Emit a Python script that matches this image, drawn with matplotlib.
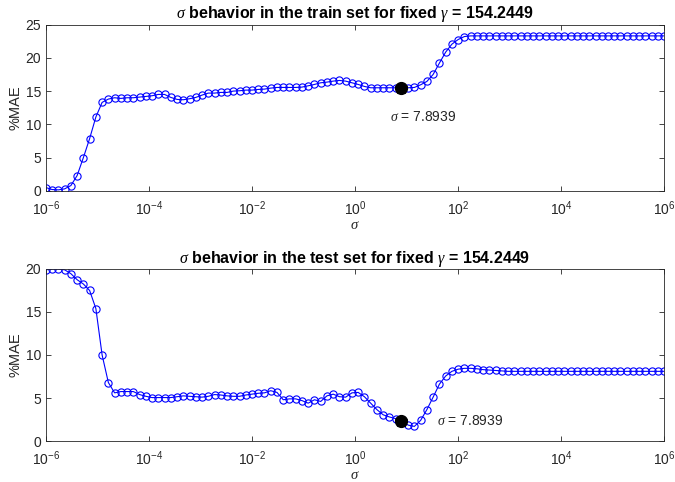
import numpy as np
import matplotlib
matplotlib.use("Agg")
import matplotlib.pyplot as plt

plt.rcParams['font.family'] = ['Liberation Sans', 'DejaVu Sans']
plt.rcParams['mathtext.fontset'] = 'custom'
plt.rcParams['mathtext.rm'] = 'Liberation Sans'
plt.rcParams['mathtext.it'] = 'Liberation Serif:italic'
plt.rcParams['mathtext.bf'] = 'Liberation Sans:bold'

# sigma sweep (100 log-spaced values) and the %MAE obtained for each
sigma = np.logspace(-6, 6, 100)

mae_train = [0.5, 0.2, 0.15, 0.3, 0.8, 2.3, 5.0, 7.85, 11.1, 13.3,
             13.8, 14.0, 13.9, 14.0, 14.0, 14.1, 14.2, 14.3, 14.5, 14.5,
             14.05, 13.75, 13.7, 13.85, 14.05, 14.4, 14.7, 14.7, 14.8, 14.8,
             15.0, 15.05, 15.15, 15.15, 15.25, 15.3, 15.45, 15.55, 15.55, 15.55,
             15.55, 15.6, 15.8, 16.0, 16.25, 16.35, 16.5, 16.6, 16.5, 16.25,
             16.0, 15.7, 15.5, 15.5, 15.5, 15.5, 15.5, 15.5, 15.5, 15.55,
             15.95, 16.45, 17.5, 19.2, 20.85, 22.05, 22.75, 23.2, 23.3, 23.3,
             23.3, 23.3, 23.3, 23.3, 23.3, 23.3, 23.3, 23.3, 23.3, 23.3,
             23.3, 23.3, 23.3, 23.3, 23.3, 23.3, 23.3, 23.3, 23.3, 23.3,
             23.3, 23.3, 23.3, 23.3, 23.3, 23.3, 23.3, 23.3, 23.3, 23.3]

mae_test = [19.9, 20.0, 20.0, 19.9, 19.45, 18.75, 18.25, 17.5, 15.4, 10.0,
            6.8, 5.6, 5.75, 5.75, 5.75, 5.4, 5.2, 5.05, 5.05, 5.05,
            5.05, 5.15, 5.25, 5.2, 5.15, 5.1, 5.2, 5.4, 5.35, 5.25,
            5.2, 5.2, 5.35, 5.45, 5.55, 5.6, 5.85, 5.65, 4.8, 4.9,
            4.9, 4.7, 4.4, 4.8, 4.6, 5.25, 5.45, 5.15, 5.1, 5.6,
            5.65, 5.15, 4.4, 3.65, 3.05, 2.8, 2.6, 2.35, 1.85, 1.7,
            2.4, 3.65, 5.1, 6.6, 7.55, 8.1, 8.35, 8.45, 8.45, 8.4,
            8.3, 8.25, 8.2, 8.15, 8.1, 8.1, 8.1, 8.1, 8.1, 8.1,
            8.1, 8.1, 8.1, 8.1, 8.1, 8.1, 8.1, 8.1, 8.1, 8.1,
            8.1, 8.1, 8.1, 8.1, 8.1, 8.1, 8.1, 8.1, 8.1, 8.1]

gamma = 154.2449
sigma_best = 7.8939
best_train = 15.5
best_test = 2.35

xticks = [1e-6, 1e-4, 1e-2, 1e0, 1e2, 1e4, 1e6]
xticklabels = [r'$\mathregular{10^{-6}}$', r'$\mathregular{10^{-4}}$', r'$\mathregular{10^{-2}}$',
               r'$\mathregular{10^{0}}$', r'$\mathregular{10^{2}}$', r'$\mathregular{10^{4}}$',
               r'$\mathregular{10^{6}}$']

fig = plt.figure(figsize=(6.75, 4.82), dpi=100)
ax1 = fig.add_axes([0.068, 0.604, 0.916, 0.345])
ax2 = fig.add_axes([0.068, 0.085, 0.916, 0.357])

grey = (0.15, 0.15, 0.15)


def setup(ax, ymax, step, setname):
    ax.set_xscale('log')
    ax.set_xlim(1e-6, 1e6)
    ax.set_ylim(0, ymax)
    ax.set_xticks(xticks)
    ax.set_xticklabels(xticklabels)
    ax.minorticks_off()
    ax.set_yticks(np.arange(0, ymax + 1, step))
    ax.tick_params(direction='in', length=3.5, width=0.6, top=True, right=True,
                   labelsize=10, colors=grey, pad=3.5)
    ax.tick_params(axis='x', pad=6)
    for s in ax.spines.values():
        s.set_color(grey)
        s.set_linewidth(0.6)
    ax.set_ylabel('%MAE', fontsize=10.5, color=grey, labelpad=2)
    ax.set_xlabel(r'$\sigma$', fontsize=10.5, color=grey, labelpad=0)
    ax.set_title(r'$\sigma$ behavior in the %s set for fixed $\gamma$ = %.4f' % (setname, gamma),
                 fontsize=11.5, fontweight='bold', pad=4.5)


ax1.plot(sigma, mae_train, '-o', color='b', lw=0.8, ms=5.2, mfc='none', mew=0.8)
ax1.plot(sigma_best, best_train, 'o', color='k', ms=8.5)
ax1.plot(sigma_best, best_train, '*', color='k', ms=9)
ax1.text(4.8, 11.05, r'$\sigma$ = %.4f' % sigma_best, fontsize=10, va='center', color=grey)
setup(ax1, 25, 5, 'train')

ax2.plot(sigma, mae_test, '-o', color='b', lw=0.8, ms=5.2, mfc='none', mew=0.8)
ax2.plot(sigma_best, best_test, 'o', color='k', ms=8.5)
ax2.plot(sigma_best, best_test, '*', color='k', ms=9)
ax2.text(39, 2.37, r'$\sigma$ = %.4f' % sigma_best, fontsize=10, va='center', color=grey)
setup(ax2, 20, 5, 'test')

fig.savefig('out.png', dpi=100)
